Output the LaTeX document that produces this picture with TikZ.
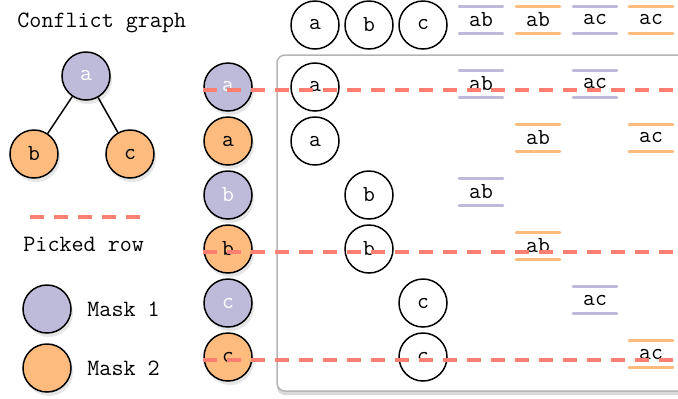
\documentclass[tikz,border=0pt]{standalone}
\usepackage{fontspec}
\usetikzlibrary{shadows}
\definecolor{maskone}{HTML}{BEBADA}
\definecolor{masktwo}{HTML}{FDBC7E}
\definecolor{pickred}{HTML}{FB8072}
\definecolor{boxgray}{HTML}{B4B4B4}
\begin{document}
\begin{tikzpicture}[x=0.5pt,y=-0.5pt,
  txt/.style={anchor=west,inner sep=0pt,font=\ttfamily\fontsize{11.7}{13}\selectfont},
  var/.style={circle,draw,line width=0.75pt,minimum size=24pt,inner sep=0pt,
    font=\ttfamily\fontsize{11.5}{12}\selectfont},
  mone/.style={var,fill=maskone,text=white,
    drop shadow={shadow xshift=1pt,shadow yshift=-2pt,opacity=0.2}},
  mtwo/.style={var,fill=masktwo,
    drop shadow={shadow xshift=1pt,shadow yshift=-2pt,opacity=0.2}},
  elab/.style={minimum width=21.5pt,minimum height=13pt,inner sep=0pt,
    font=\ttfamily\fontsize{11.5}{12}\selectfont},
  picked/.style={pickred,line width=2pt,dash pattern=on 7pt off 5pt}]
\useasboundingbox (0,0) rectangle (678,398);

% legend
\node[txt] (title) at (17,23) {Conflict graph};
\node[mone] (ga) at (86,76) {a};
\node[mtwo] (gb) at (34,154) {b};
\node[mtwo] (gc) at (130,154) {c};
\draw[line width=0.75pt] (ga) -- (gb);
\draw[line width=0.75pt] (ga) -- (gc);
\coordinate (ls) at (30,217);
\coordinate (le) at (142,217);
\draw[picked] (ls) -- (le);
\node[txt] (pick) at (23,244) {Picked row};
\node[mone] (k1) at (47,309) {};
\node[txt] at (87,309) (t1) {Mask 1};
\node[mtwo] (k2) at (47,368) {};
\node[txt] at (87,368) (t2) {Mask 2};

% box
\draw[boxgray,fill=white,line width=0.75pt,rounded corners=4pt,
  drop shadow={shadow xshift=0pt,shadow yshift=-2pt,opacity=0.3}]
  (277,55) rectangle (720,391);

% header
\foreach \L/\X in {a/315,b/369,c/423}
  \node[var] (h\L) at (\X,25) {\L};

% rows
\foreach \R/\Y/\L/\S/\X in {1/87/a/mone/315,2/141/a/mtwo/315,3/195/b/mone/369,
    4/249/b/mtwo/369,5/303/c/mone/423,6/357/c/mtwo/423} {
  \node[\S] (m\R) at (228,\Y) {\L};
  \node[var] (v\R) at (\X,\Y) {\L};
}

% edge labels
\foreach \N/\X/\Y/\C/\T in {h1/481/20/maskone/ab,h2/538/20/masktwo/ab,
    h3/595/20/maskone/ac,h4/651/20/masktwo/ac,
    r1a/481/84/maskone/ab,r1b/595/84/maskone/ac,
    r2a/538/138/masktwo/ab,r2b/651/138/masktwo/ac,
    r3a/481/192/maskone/ab,r4a/538/246/masktwo/ab,
    r5a/595/300/maskone/ac,r6a/651/354/masktwo/ac} {
  \node[elab] (\N) at (\X,\Y) {\T};
  \draw[\C,line width=1.5pt,line cap=round] (\N.north west) -- (\N.north east)
    (\N.south west) -- (\N.south east);
}

% picked rows
\foreach \R/\Y in {1/90,4/252,6/360} {
  \coordinate (ps\R) at (203,\Y);
  \coordinate (pe\R) at (690,\Y);
  \draw[picked] (ps\R) -- (pe\R);
}
\end{tikzpicture}
\end{document}
